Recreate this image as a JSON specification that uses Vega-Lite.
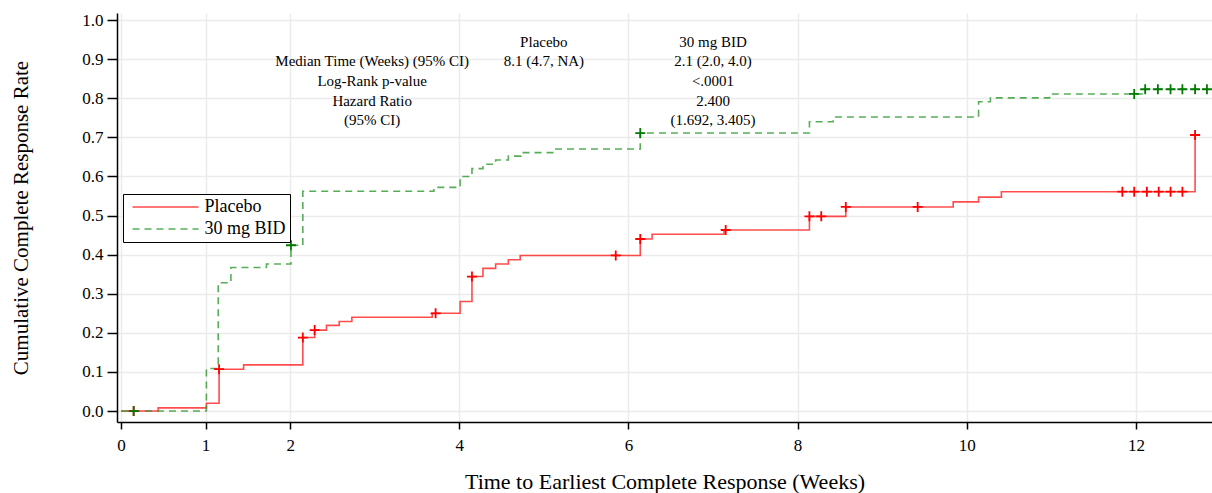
{
  "$schema": "https://vega.github.io/schema/vega-lite/v6.json",
  "width": 1095,
  "height": 409,
  "autosize": {"type": "none"},
  "padding": {"left": 117, "top": 13, "right": 0, "bottom": 71},
  "background": "white",
  "config": {
    "view": {"stroke": null},
    "font": "Liberation Serif",
    "axis": {
      "domainColor": "black",
      "domainWidth": 1.5,
      "tickColor": "black",
      "tickWidth": 1.5,
      "labelColor": "black",
      "titleColor": "black",
      "labelFont": "Liberation Serif",
      "titleFont": "Liberation Serif",
      "titleFontWeight": "normal",
      "labelFontSize": 17,
      "titleFontSize": 21,
      "gridColor": "#ebebeb",
      "gridWidth": 1.5
    },
    "legend": {
      "orient": "none",
      "legendX": 6,
      "legendY": 181,
      "strokeColor": "black",
      "fillColor": "white",
      "padding": 4,
      "symbolType": "M-6,0H6",
      "symbolSize": 121,
      "symbolOffset": 29.5,
      "symbolStrokeWidth": 1.5,
      "labelFont": "Liberation Serif",
      "labelFontSize": 18,
      "labelColor": "black",
      "labelOffset": 30,
      "rowPadding": 4
    }
  },
  "layer": [
    {
      "data": {
        "values": [
          {"g": "Placebo", "t": 0, "s": 0, "c": 0},
          {"g": "Placebo", "t": 0.15, "s": 0, "c": 1},
          {"g": "Placebo", "t": 0.44, "s": 0.008, "c": 0},
          {"g": "Placebo", "t": 1.01, "s": 0.02, "c": 0},
          {"g": "Placebo", "t": 1.16, "s": 0.107, "c": 1},
          {"g": "Placebo", "t": 1.45, "s": 0.118, "c": 0},
          {"g": "Placebo", "t": 2.15, "s": 0.188, "c": 1},
          {"g": "Placebo", "t": 2.29, "s": 0.207, "c": 1},
          {"g": "Placebo", "t": 2.43, "s": 0.219, "c": 0},
          {"g": "Placebo", "t": 2.58, "s": 0.229, "c": 0},
          {"g": "Placebo", "t": 2.73, "s": 0.24, "c": 0},
          {"g": "Placebo", "t": 3.68, "s": 0.25, "c": 0},
          {"g": "Placebo", "t": 3.72, "s": 0.25, "c": 1},
          {"g": "Placebo", "t": 4.01, "s": 0.28, "c": 0},
          {"g": "Placebo", "t": 4.15, "s": 0.344, "c": 1},
          {"g": "Placebo", "t": 4.28, "s": 0.365, "c": 0},
          {"g": "Placebo", "t": 4.43, "s": 0.376, "c": 0},
          {"g": "Placebo", "t": 4.58, "s": 0.387, "c": 0},
          {"g": "Placebo", "t": 4.72, "s": 0.398, "c": 0},
          {"g": "Placebo", "t": 5.85, "s": 0.398, "c": 1},
          {"g": "Placebo", "t": 6.14, "s": 0.44, "c": 1},
          {"g": "Placebo", "t": 6.28, "s": 0.452, "c": 0},
          {"g": "Placebo", "t": 7.13, "s": 0.463, "c": 0},
          {"g": "Placebo", "t": 7.15, "s": 0.463, "c": 1},
          {"g": "Placebo", "t": 8.14, "s": 0.498, "c": 1},
          {"g": "Placebo", "t": 8.28, "s": 0.498, "c": 1},
          {"g": "Placebo", "t": 8.57, "s": 0.522, "c": 1},
          {"g": "Placebo", "t": 9.42, "s": 0.522, "c": 1},
          {"g": "Placebo", "t": 9.84, "s": 0.535, "c": 0},
          {"g": "Placebo", "t": 10.14, "s": 0.547, "c": 0},
          {"g": "Placebo", "t": 10.41, "s": 0.561, "c": 0},
          {"g": "Placebo", "t": 11.84, "s": 0.561, "c": 1},
          {"g": "Placebo", "t": 11.98, "s": 0.561, "c": 1},
          {"g": "Placebo", "t": 12.13, "s": 0.561, "c": 1},
          {"g": "Placebo", "t": 12.27, "s": 0.561, "c": 1},
          {"g": "Placebo", "t": 12.41, "s": 0.561, "c": 1},
          {"g": "Placebo", "t": 12.55, "s": 0.561, "c": 1},
          {"g": "Placebo", "t": 12.7, "s": 0.706, "c": 1},
          {"g": "30 mg BID", "t": 0, "s": 0, "c": 0},
          {"g": "30 mg BID", "t": 0.15, "s": 0, "c": 1},
          {"g": "30 mg BID", "t": 1.01, "s": 0.109, "c": 0},
          {"g": "30 mg BID", "t": 1.15, "s": 0.328, "c": 0},
          {"g": "30 mg BID", "t": 1.3, "s": 0.367, "c": 0},
          {"g": "30 mg BID", "t": 1.72, "s": 0.376, "c": 0},
          {"g": "30 mg BID", "t": 2.01, "s": 0.424, "c": 1},
          {"g": "30 mg BID", "t": 2.15, "s": 0.562, "c": 0},
          {"g": "30 mg BID", "t": 3.7, "s": 0.572, "c": 0},
          {"g": "30 mg BID", "t": 4.01, "s": 0.6, "c": 0},
          {"g": "30 mg BID", "t": 4.15, "s": 0.62, "c": 0},
          {"g": "30 mg BID", "t": 4.28, "s": 0.631, "c": 0},
          {"g": "30 mg BID", "t": 4.43, "s": 0.642, "c": 0},
          {"g": "30 mg BID", "t": 4.58, "s": 0.652, "c": 0},
          {"g": "30 mg BID", "t": 4.73, "s": 0.661, "c": 0},
          {"g": "30 mg BID", "t": 5.13, "s": 0.67, "c": 0},
          {"g": "30 mg BID", "t": 6.14, "s": 0.711, "c": 1},
          {"g": "30 mg BID", "t": 8.14, "s": 0.74, "c": 0},
          {"g": "30 mg BID", "t": 8.42, "s": 0.752, "c": 0},
          {"g": "30 mg BID", "t": 10.14, "s": 0.791, "c": 0},
          {"g": "30 mg BID", "t": 10.28, "s": 0.801, "c": 0},
          {"g": "30 mg BID", "t": 10.98, "s": 0.811, "c": 0},
          {"g": "30 mg BID", "t": 11.98, "s": 0.811, "c": 1},
          {"g": "30 mg BID", "t": 12.11, "s": 0.823, "c": 1},
          {"g": "30 mg BID", "t": 12.26, "s": 0.823, "c": 1},
          {"g": "30 mg BID", "t": 12.41, "s": 0.823, "c": 1},
          {"g": "30 mg BID", "t": 12.55, "s": 0.823, "c": 1},
          {"g": "30 mg BID", "t": 12.7, "s": 0.823, "c": 1},
          {"g": "30 mg BID", "t": 12.84, "s": 0.823, "c": 1}
        ]
      },
      "layer": [
        {
          "mark": {"type": "line", "interpolate": "step-after", "strokeWidth": 1.6, "opacity": 0.8},
          "encoding": {
            "x": {
              "field": "t", "type": "quantitative",
              "scale": {"domain": [-0.047, 12.9], "nice": false, "zero": false},
              "axis": {
                "title": "Time to Earliest Complete Response (Weeks)",
                "values": [0, 1, 2, 4, 6, 8, 10, 12],
                "format": "d",
                "tickSize": 7,
                "labelPadding": 8,
                "titleFontSize": 22,
                "titleY": 66,
                "titleBaseline": "alphabetic"
              }
            },
            "y": {
              "field": "s", "type": "quantitative",
              "scale": {"domain": [-0.028, 1.018], "nice": false, "zero": false},
              "axis": {
                "title": "Cumulative Complete Response Rate",
                "values": [0, 0.1, 0.2, 0.3, 0.4, 0.5, 0.6, 0.7, 0.8, 0.9, 1.0],
                "format": ".1f",
                "tickSize": 10,
                "labelPadding": 4,
                "titleX": -90,
                "titleBaseline": "alphabetic"
              }
            },
            "color": {
              "field": "g", "type": "nominal",
              "scale": {"domain": ["Placebo", "30 mg BID"], "range": ["#ff2020", "#2e9a2e"]},
              "legend": {"title": null}
            },
            "strokeDash": {
              "field": "g", "type": "nominal",
              "scale": {"domain": ["Placebo", "30 mg BID"], "range": [[1, 0], [7, 5]]},
              "legend": {"title": null}
            }
          }
        },
        {
          "transform": [{"filter": "datum.c == 1"}],
          "mark": {"type": "point", "shape": "M-1,0L1,0M0,-1L0,1", "size": 100, "filled": false, "strokeWidth": 1.8, "opacity": 1},
          "encoding": {
            "x": {"field": "t", "type": "quantitative"},
            "y": {"field": "s", "type": "quantitative"},
            "stroke": {
              "field": "g", "type": "nominal",
              "scale": {"domain": ["Placebo", "30 mg BID"], "range": ["#ff0000", "#007a00"]},
              "legend": null
            }
          }
        }
      ]
    },
    {
      "data": {
        "values": [
          {"t": 5.0, "s": 0.945, "label": "Placebo"},
          {"t": 7.0, "s": 0.945, "label": "30 mg BID"},
          {"t": 2.97, "s": 0.894, "label": "Median Time (Weeks) (95% CI)"},
          {"t": 5.0, "s": 0.894, "label": "8.1 (4.7, NA)"},
          {"t": 7.0, "s": 0.894, "label": "2.1 (2.0, 4.0)"},
          {"t": 2.97, "s": 0.843, "label": "Log-Rank p-value"},
          {"t": 7.0, "s": 0.843, "label": "<.0001"},
          {"t": 2.97, "s": 0.794, "label": "Hazard Ratio"},
          {"t": 7.0, "s": 0.794, "label": "2.400"},
          {"t": 2.97, "s": 0.744, "label": "(95% CI)"},
          {"t": 7.0, "s": 0.744, "label": "(1.692, 3.405)"}
        ]
      },
      "mark": {"type": "text", "font": "Liberation Serif", "fontSize": 15, "align": "center", "baseline": "middle", "color": "black"},
      "encoding": {
        "x": {"field": "t", "type": "quantitative"},
        "y": {"field": "s", "type": "quantitative"},
        "text": {"field": "label", "type": "nominal"}
      }
    }
  ]
}
